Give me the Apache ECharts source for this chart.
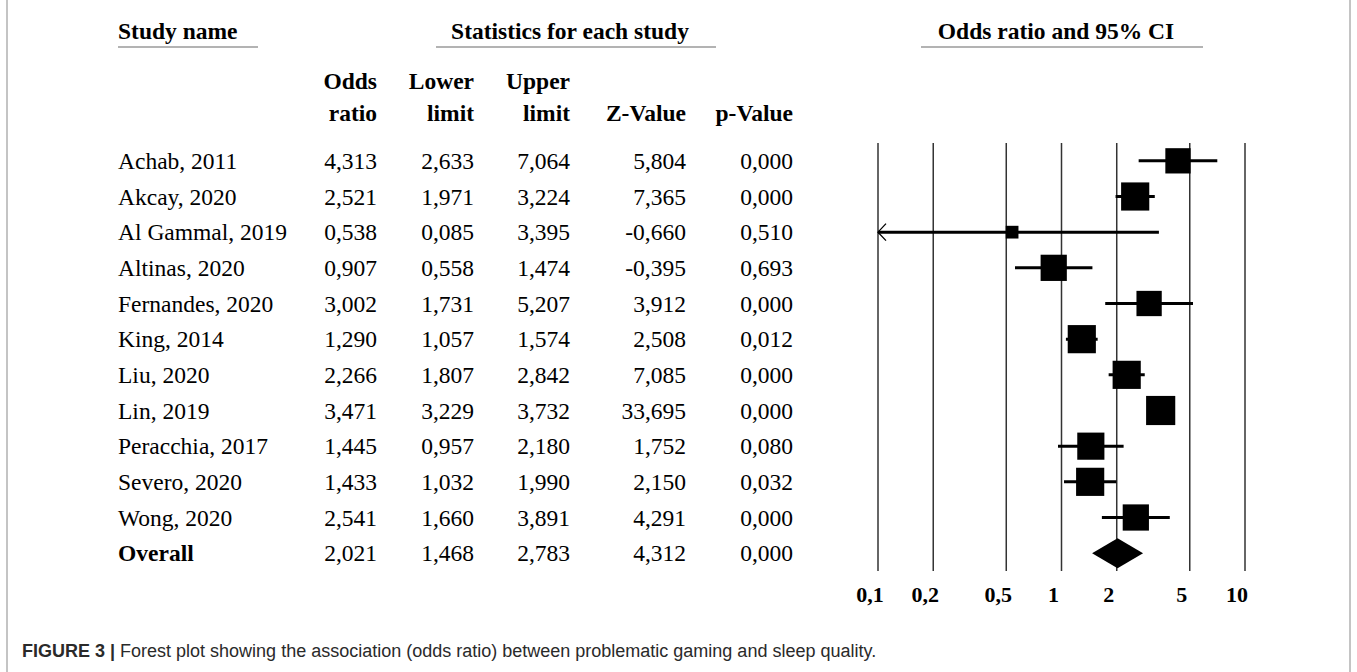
<!DOCTYPE html>
<html><head><meta charset="utf-8">
<script src="https://cdn.jsdelivr.net/npm/echarts@6/dist/echarts.min.js"></script>
<style>html,body{margin:0;padding:0;background:#fff}#c{width:1357px;height:672px}#err{position:absolute;left:300px;top:600px;color:red;font:12px monospace}</style>
</head><body><div id="c"></div><div id="err"></div>
<script>
// ---------------- data ----------------
const studies = ['Achab, 2011','Akcay, 2020','Al Gammal, 2019','Altinas, 2020','Fernandes, 2020','King, 2014','Liu, 2020','Lin, 2019','Peracchia, 2017','Severo, 2020','Wong, 2020','Overall'];
const oddsRatio  = [4.313,2.521,0.538,0.907,3.002,1.290,2.266,3.471,1.445,1.433,2.541,2.021];
const lowerLimit = [2.633,1.971,0.085,0.558,1.731,1.057,1.807,3.229,0.957,1.032,1.660,1.468];
const upperLimit = [7.064,3.224,3.395,1.474,5.207,1.574,2.842,3.732,2.180,1.990,3.891,2.783];
const zValue     = [5.804,7.365,-0.660,-0.395,3.912,2.508,7.085,33.695,1.752,2.150,4.291,4.312];
const pValue     = [0.000,0.000,0.510,0.693,0.000,0.012,0.000,0.000,0.080,0.032,0.000,0.000];
// relative study weights
const relWeight  = [7.9,9.8,2.0,8.5,7.9,9.8,9.8,10.5,9.1,9.8,8.5];
const xTicks = [0.1,0.2,0.5,1,2,5,10];
const headerCols = [['Odds','ratio'],['Lower','limit'],['Upper','limit'],['','Z-Value'],['','p-Value']];
const caption = 'Forest plot showing the association (odds ratio) between problematic gaming and sleep quality.';

// ---------------- layout / style ----------------
const SERIF = '"Liberation Serif", "Times New Roman", serif';
const FS = 23.5;
const X_MIN = 0.1, X_MAX = 10;
const GRID_LEFT = 878, GRID_RIGHT_X = 1245, GRID_TOP = 143, GRID_H = 428;
const nameX = 118;
const colRight = [377, 474, 570, 686, 793];
const nRows = studies.length;
const nStudies = nRows - 1;
const fmt = v => v.toFixed(3).replace('.', ',');
const rowIdx = studies.map((s, i) => String(i));

function tableAxis(formatter, rightX, align) {
  return {
    type: 'category', data: rowIdx, inverse: true, position: 'left', gridIndex: 0,
    axisLine: {show: false}, axisTick: {show: false}, splitLine: {show: false},
    axisLabel: {
      interval: 0, margin: GRID_LEFT - rightX, align: align, formatter: formatter,
      fontFamily: SERIF, fontSize: FS, color: '#000',
      rich: {b: {fontFamily: SERIF, fontSize: FS, fontWeight: 'bold', color: '#000'}}
    }
  };
}
const numCols = [oddsRatio, lowerLimit, upperLimit, zValue, pValue];
const yAxes = [tableAxis((v, i) => (i === nRows - 1 ? '{b|' + studies[i] + '}' : studies[i]), nameX, 'left')];
numCols.forEach((arr, c) => yAxes.push(tableAxis((v, i) => fmt(arr[i]), colRight[c], 'right')));
// hidden numeric row axis used by the plotted marks (row i centred in band i)
yAxes.push({type: 'value', show: false, inverse: true, min: -0.5, max: nRows - 0.5, gridIndex: 0});
const ROW_AXIS = yAxes.length - 1;

const graphic = [];
function txt(text, x, y, align, font) {
  graphic.push({type: 'text', x: x, y: y, silent: true,
    style: {text: text, x: 0, y: 0, align: align, verticalAlign: 'middle', textAlign: align, textVerticalAlign: 'middle', font: font, fill: '#000'}});
}
function hline(x1, x2, y, color, w) {
  graphic.push({type: 'line', silent: true, shape: {x1: x1, y1: y, x2: x2, y2: y}, style: {stroke: color, lineWidth: w}});
}
const BOLD = 'bold ' + FS + 'px ' + SERIF;
txt('Study name', nameX, 31, 'left', BOLD); hline(118, 258, 47, '#9a9a9a', 1.5);
txt('Statistics for each study', 570, 31, 'center', BOLD); hline(436, 716, 47, '#9a9a9a', 1.5);
txt('Odds ratio and 95% CI', 1056, 31, 'center', BOLD); hline(921, 1203, 47, '#9a9a9a', 1.5);
headerCols.forEach((h, c) => {
  if (h[0]) txt(h[0], colRight[c], 81, 'right', BOLD);
  txt(h[1], colRight[c], 113, 'right', BOLD);
});
// frame
graphic.push({type: 'line', silent: true, shape: {x1: 7, y1: 0, x2: 7, y2: 672}, style: {stroke: '#b0b0b0', lineWidth: 1.5}});
graphic.push({type: 'line', silent: true, shape: {x1: 1350, y1: 0, x2: 1350, y2: 672}, style: {stroke: '#b0b0b0', lineWidth: 1.5}});
// caption
graphic.push({type: 'text', x: 22, y: 651, silent: true,
  style: {text: '{b|FIGURE 3 |} ' + caption, verticalAlign: 'middle', textVerticalAlign: 'middle',
    font: '18px "Liberation Sans", Arial, sans-serif', fill: '#2a2a2a',
    rich: {b: {fontFamily: '"Liberation Sans", Arial, sans-serif', fontSize: 18, fontWeight: 'bold', fill: '#2a2a2a', color: '#2a2a2a'}}}});

const ciData = [], sqData = [];
for (let i = 0; i < nStudies; i++) {
  ciData.push([lowerLimit[i], upperLimit[i], i]);
  sqData.push([oddsRatio[i], i]);
}
const ov = nRows - 1;
const diamondData = [[lowerLimit[ov], oddsRatio[ov], upperLimit[ov], ov]];
const gridLineData = xTicks.map(v => [v, 0]);

try {
const chart = echarts.init(document.getElementById('c'), null, {renderer: 'svg'});
chart.setOption({
  animation: false,
  backgroundColor: '#fff',
  grid: {left: GRID_LEFT, top: GRID_TOP, width: GRID_RIGHT_X - GRID_LEFT, height: GRID_H, containLabel: false, outerBoundsMode: 'none'},
  xAxis: {
    type: 'log', logBase: 10, min: X_MIN, max: X_MAX,
    axisLine: {show: false}, axisTick: {show: false}, splitLine: {show: false},
    axisLabel: {
      customValues: xTicks, margin: 12, padding: [0, 16, 0, 0],
      formatter: v => String(+(+v).toPrecision(6)).replace('.', ','),
      fontFamily: SERIF, fontWeight: 'bold', fontSize: 22, color: '#000'
    }
  },
  yAxis: yAxes,
  graphic: graphic,
  series: [
    { // reference lines at the labelled odds ratios
      type: 'custom', z: 1, yAxisIndex: ROW_AXIS, data: gridLineData, encode: {x: 0, y: 1}, silent: true,
      renderItem: function (params, api) {
        const v = api.value(0);
        const a = api.coord([v, -0.5]), b = api.coord([v, nRows - 0.5]);
        return {type: 'line', shape: {x1: a[0], y1: a[1], x2: b[0], y2: b[1]}, style: {stroke: '#333', lineWidth: 1.5}};
      }
    },
    { // confidence intervals
      type: 'custom', z: 2, yAxisIndex: ROW_AXIS, data: ciData, encode: {x: [0, 1], y: 2}, silent: true,
      renderItem: function (params, api) {
        const lo = api.value(0), hi = api.value(1), row = api.value(2);
        const p1 = api.coord([Math.max(lo, X_MIN), row]);
        const p2 = api.coord([Math.min(hi, X_MAX), row]);
        const children = [{type: 'line', shape: {x1: p1[0], y1: p1[1], x2: p2[0], y2: p2[1]}, style: {stroke: '#000', lineWidth: 3}}];
        if (lo < X_MIN) {
          children.push({type: 'polyline', shape: {points: [[p1[0] + 8, p1[1] - 8.5], [p1[0], p1[1]], [p1[0] + 8, p1[1] + 8.5]]},
            style: {stroke: '#000', lineWidth: 1.3, fill: null}});
        }
        return {type: 'group', children: children};
      }
    },
    { // study point estimates (box size ~ weight)
      type: 'scatter', z: 3, yAxisIndex: ROW_AXIS, data: sqData, symbol: 'rect', silent: true,
      symbolSize: (val, p) => 9 * Math.sqrt(relWeight[p.dataIndex]),
      itemStyle: {color: '#000', opacity: 1}
    },
    { // pooled estimate
      type: 'custom', z: 3, yAxisIndex: ROW_AXIS, data: diamondData, encode: {x: [0, 1, 2], y: 3}, silent: true,
      renderItem: function (params, api) {
        const row = api.value(3);
        const l = api.coord([api.value(0), row]);
        const c = api.coord([api.value(1), row]);
        const r = api.coord([api.value(2), row]);
        const band = Math.abs(api.coord([1, row + 1])[1] - api.coord([1, row])[1]);
        const h = band * 0.42;
        return {type: 'polygon', shape: {points: [[l[0], l[1]], [c[0], c[1] - h], [r[0], r[1]], [c[0], c[1] + h]]}, style: {fill: '#000'}};
      }
    }
  ]
});
} catch (e) { document.getElementById('err').textContent = String(e && e.stack || e).slice(0, 300); }
</script>
</body></html>
